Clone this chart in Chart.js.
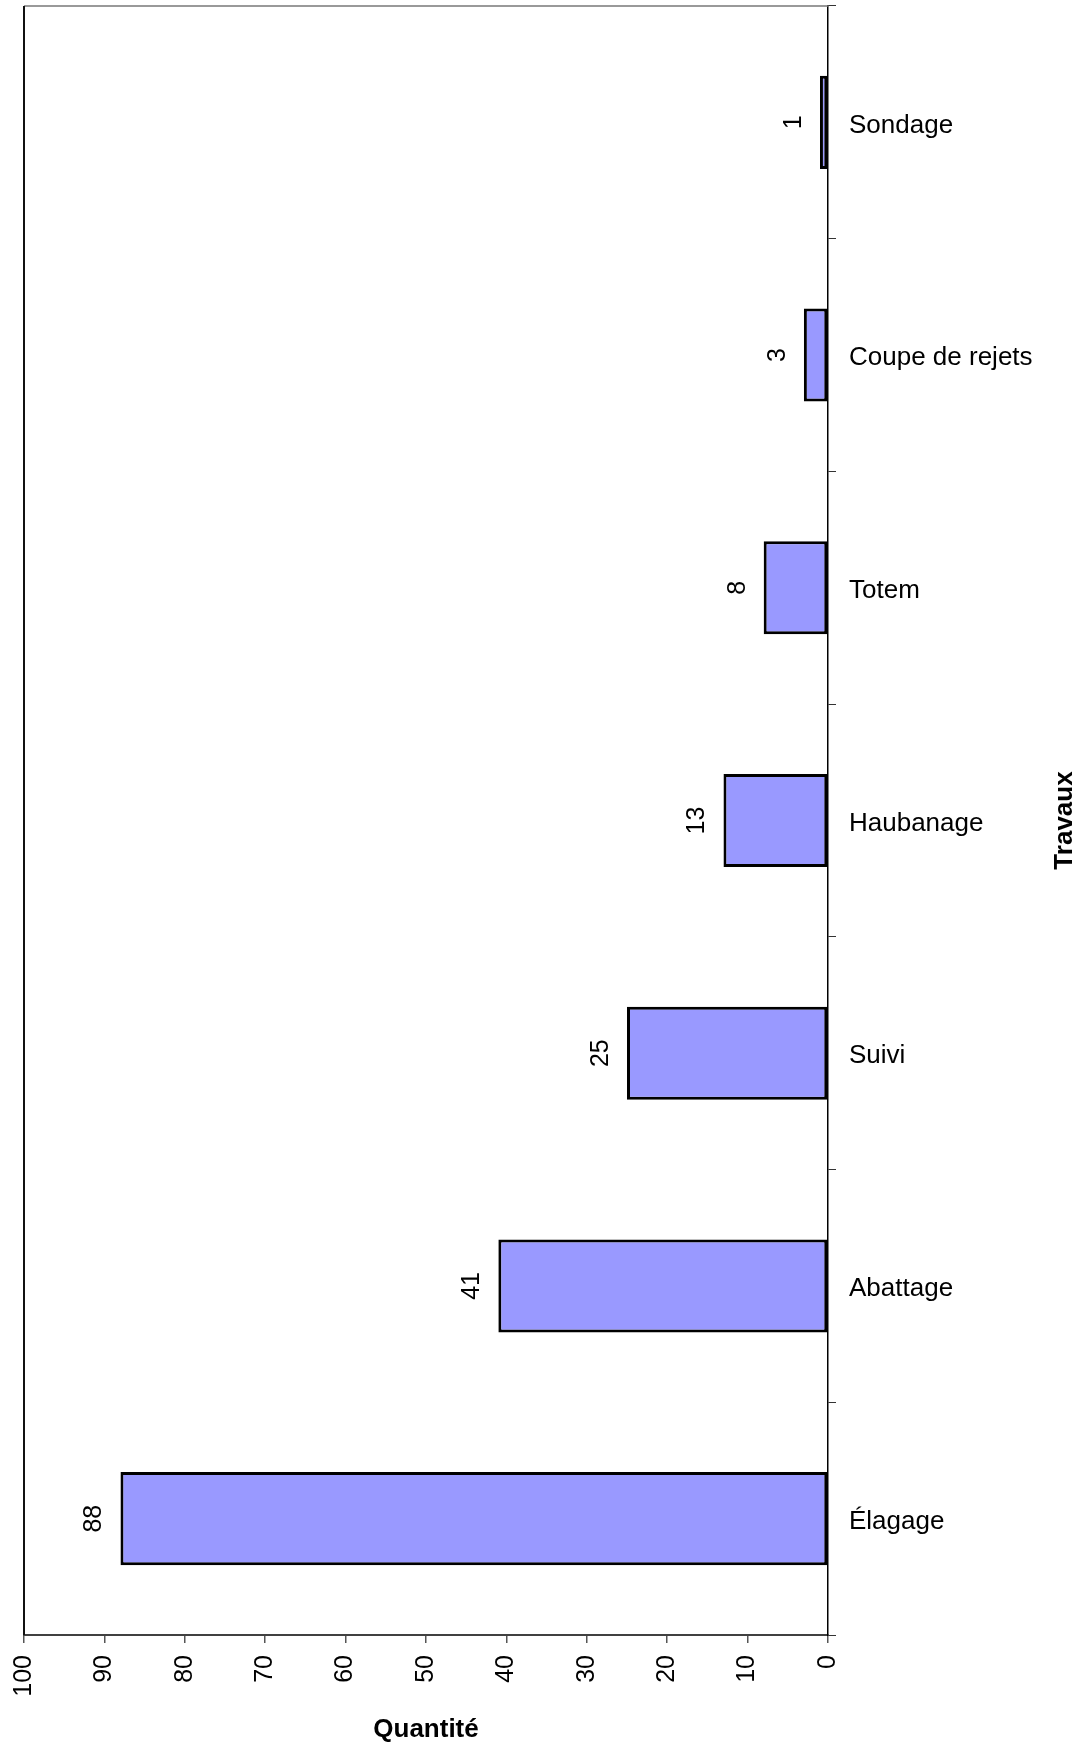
<!DOCTYPE html>
<html>
<head>
<meta charset="utf-8">
<script src="https://cdn.jsdelivr.net/npm/chart.js@4/dist/chart.umd.min.js"></script>
<style>
  body { margin: 0; background: #fff; }
  #wrap { width: 1076px; height: 1747px; }
</style>
</head>
<body>
<div id="wrap"><canvas id="chart" width="1076" height="1747"></canvas></div>
<script>
const categories = ['Sondage', 'Coupe de rejets', 'Totem', 'Haubanage', 'Suivi', 'Abattage', 'Élagage'];
const quantities = [1, 3, 8, 13, 25, 41, 88];
const valueTicks = [0, 10, 20, 30, 40, 50, 60, 70, 80, 90, 100];

const FONT = 'Liberation Sans, Arial, sans-serif';

// frame on top/left of the plot area, value labels and the "Travaux" title
const extras = {
  id: 'extras',
  beforeDatasetsDraw(chart) {
    const {ctx, chartArea: a} = chart;
    ctx.save();
    ctx.lineWidth = 1.5;
    ctx.strokeStyle = '#777';
    ctx.beginPath();
    ctx.moveTo(a.left, a.top);
    ctx.lineTo(a.right, a.top);
    ctx.stroke();
    ctx.strokeStyle = '#111';
    ctx.lineWidth = 2;
    ctx.beginPath();
    ctx.moveTo(a.left, a.top);
    ctx.lineTo(a.left, a.bottom);
    ctx.stroke();
    ctx.restore();
  },
  afterDatasetsDraw(chart) {
    const {ctx} = chart;
    const meta = chart.getDatasetMeta(0);
    ctx.save();
    ctx.fillStyle = '#000';
    ctx.font = '25px ' + FONT;
    ctx.textAlign = 'center';
    ctx.textBaseline = 'middle';
    meta.data.forEach((bar, i) => {
      ctx.save();
      ctx.translate(bar.x - 26, bar.y);
      ctx.rotate(-Math.PI / 2);
      ctx.fillText(String(quantities[i]), 0, 0);
      ctx.restore();
    });
    const a = chart.chartArea;
    ctx.font = 'bold 26px ' + FONT;
    ctx.translate(1065, (a.top + a.bottom) / 2);
    ctx.rotate(-Math.PI / 2);
    ctx.fillText('Travaux', 0, 0);
    ctx.restore();
  }
};

const chart = new Chart(document.getElementById('chart'), {
  type: 'bar',
  data: {
    labels: categories,
    datasets: [{
      label: 'Quantité',
      data: quantities,
      backgroundColor: '#9999FF',
      borderColor: '#000',
      borderWidth: 3,
      borderSkipped: false,
      categoryPercentage: 1,
      barPercentage: 0.4
    }]
  },
  options: {
    indexAxis: 'y',
    responsive: false,
    animation: false,
    layout: {
      padding: { left: 24, top: 6, right: 0, bottom: 0 }
    },
    plugins: {
      legend: { display: false },
      tooltip: { enabled: false }
    },
    scales: {
      x: {
        reverse: true,
        min: 0,
        max: 100,
        afterBuildTicks: (scale) => {
          scale.ticks = valueTicks.map(v => ({ value: v }));
        },
        afterFit: (scale) => {
          scale.height = 112;
          scale.paddingLeft = 0;
          scale.paddingRight = 0;
        },
        border: { color: '#404040', width: 2 },
        grid: {
          drawOnChartArea: false,
          drawTicks: true,
          tickLength: 8,
          color: '#555',
          lineWidth: 1.5
        },
        ticks: {
          minRotation: 90,
          maxRotation: 90,
          padding: 12,
          color: '#000',
          font: { family: FONT, size: 25 }
        },
        title: {
          display: true,
          text: 'Quantité',
          color: '#000',
          font: { family: FONT, size: 26, weight: 'bold' },
          padding: { top: 0, bottom: 2 }
        }
      },
      y: {
        position: 'right',
        afterFit: (scale) => {
          scale.width = 248;
          scale.paddingTop = 0;
          scale.paddingBottom = 0;
        },
        border: { color: '#000', width: 1.5 },
        grid: {
          drawOnChartArea: false,
          drawTicks: true,
          tickLength: 8,
          color: '#333',
          lineWidth: 1
        },
        ticks: {
          padding: 13,
          labelOffset: 3,
          color: '#000',
          font: { family: FONT, size: 26 }
        }
      }
    }
  },
  plugins: [extras]
});
</script>
</body>
</html>
